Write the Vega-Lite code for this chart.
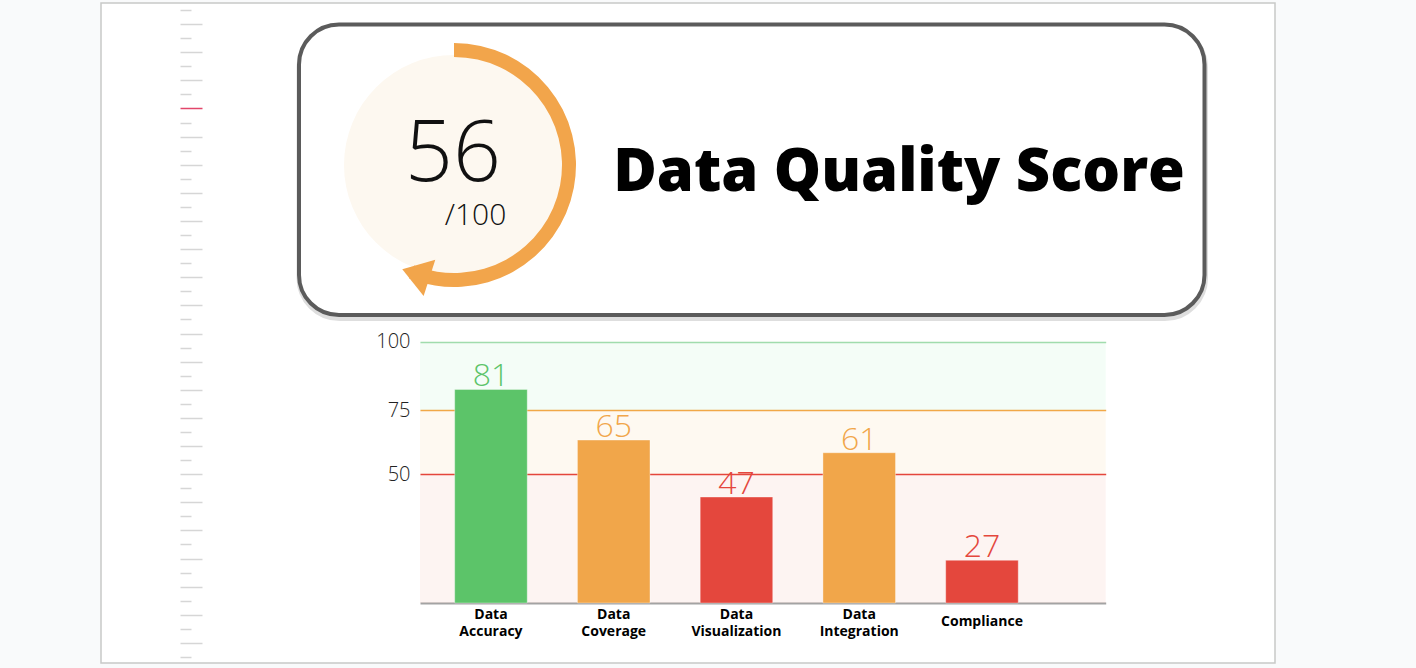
{
  "$schema": "https://vega.github.io/schema/vega-lite/v6.json",
  "width": 1174,
  "height": 660,
  "autosize": {"type": "none"},
  "padding": {"left": 101, "top": 3, "right": 141, "bottom": 5},
  "background": "#f9fafb",
  "config": {
    "view": {"fill": "white", "stroke": "#c8c9c8", "strokeWidth": 1.5},
    "font": "Open Sans"
  },
  "datasets": {
    "scores": [
      {"category": "Data Accuracy", "score": 81},
      {"category": "Data Coverage", "score": 65},
      {"category": "Data Visualization", "score": 47},
      {"category": "Data Integration", "score": 61},
      {"category": "Compliance", "score": 27}
    ],
    "overall": [{"metric": "Data Quality Score", "score": 56, "max": 100}],
    "zones": [
      {"zone": "Good", "from": 75, "to": 100},
      {"zone": "Fair", "from": 50, "to": 75},
      {"zone": "Poor", "from": 0, "to": 50}
    ]
  },
  "layer": [
    {
      "data": {"values": [{}]},
      "mark": {"type": "point", "opacity": 0, "size": 0},
      "encoding": {
        "y": {
          "datum": 0, "type": "quantitative",
          "scale": {"domain": [0, 46], "range": [7, 654], "nice": false, "zero": false},
          "axis": {"orient": "right", "offset": -1095, "values": [0,2,4,6,8,10,12,14,16,18,20,22,24,26,28,30,32,34,36,38,40,42,44,46],
            "tickSize": 11, "tickColor": "#d6d6d6", "tickWidth": 1.5, "labels": false, "domain": false, "grid": false, "title": null}
        }
      }
    },
    {
      "data": {"values": [{}]},
      "mark": {"type": "point", "opacity": 0, "size": 0},
      "encoding": {
        "y": {
          "datum": 0, "type": "quantitative",
          "scale": {"domain": [0, 46], "range": [7, 654], "nice": false, "zero": false},
          "axis": {"orient": "right", "offset": -1095, "values": [1,3,5,7,9,11,13,15,17,19,21,23,25,27,29,31,33,35,37,39,41,43,45],
            "tickSize": 22, "tickColor": {"condition": {"test": "datum.value === 7", "value": "#e2466a"}, "value": "#d6d6d6"},
            "tickWidth": 1.5, "labels": false, "domain": false, "grid": false, "title": null}
        }
      }
    },
    {
      "data": {"name": "overall"},
      "mark": {"type": "rect", "fill": null, "stroke": "#000000", "strokeOpacity": 0.13, "strokeWidth": 6, "cornerRadius": 40},
      "encoding": {
        "x": {"field": "metric", "type": "nominal", "scale": {"type": "band", "range": [198.5, 1104], "paddingInner": 0, "paddingOuter": 0}, "axis": null},
        "y": {"field": "metric", "type": "nominal", "scale": {"type": "band", "range": [24.5, 315], "paddingInner": 0, "paddingOuter": 0}, "axis": null}
      }
    },
    {
      "data": {"name": "overall"},
      "mark": {"type": "rect", "fill": "white", "stroke": "#5b5b5b", "strokeWidth": 4, "cornerRadius": 40},
      "encoding": {
        "x": {"field": "metric", "type": "nominal", "scale": {"type": "band", "range": [198, 1103.5], "paddingInner": 0, "paddingOuter": 0}, "axis": null},
        "y": {"field": "metric", "type": "nominal", "scale": {"type": "band", "range": [21.5, 312], "paddingInner": 0, "paddingOuter": 0}, "axis": null}
      }
    },
    {
      "data": {"name": "overall"},
      "encoding": {
        "x": {"field": "metric", "type": "nominal", "scale": {"type": "band", "range": [243, 463], "paddingInner": 0, "paddingOuter": 0}, "axis": null},
        "y": {"field": "metric", "type": "nominal", "scale": {"type": "band", "range": [52, 272], "paddingInner": 0, "paddingOuter": 0}, "axis": null}
      },
      "layer": [
        {"mark": {"type": "point", "shape": "circle", "filled": true, "size": 48400, "color": "#fdf8f0", "opacity": 1, "strokeWidth": 0}},
        {
          "mark": {"type": "arc", "innerRadius": 108, "outerRadius": 122, "color": "#f2a54b"},
          "encoding": {"theta": {"field": "score", "type": "quantitative", "scale": {"domain": [0, 100], "range": [0, 6.283185]}}}
        },
        {
          "mark": {"type": "point", "shape": "M0.0746,-0.8923L-0.1346,-0.7308L-0.1538,-1.0231Z", "filled": true, "size": 67600, "color": "#f2a54b", "opacity": 1, "strokeWidth": 0},
          "encoding": {"angle": {"field": "score", "type": "quantitative", "scale": {"domain": [0, 100], "range": [0, 360]}}}
        },
        {
          "mark": {"type": "text", "font": "Open Sans", "fontWeight": 300, "fontSize": 84, "baseline": "alphabetic", "align": "center", "dx": -1, "dy": 16, "color": "#111111"},
          "encoding": {"text": {"field": "score"}}
        },
        {
          "mark": {"type": "text", "font": "Open Sans", "fontWeight": 300, "fontSize": 30, "baseline": "alphabetic", "align": "center", "dx": 21.5, "dy": 60, "color": "#111111"},
          "encoding": {"text": {"value": "/100"}}
        }
      ]
    },
    {
      "data": {"name": "overall"},
      "mark": {"type": "text", "font": "Open Sans", "fontWeight": 800, "fontSize": 59.5, "baseline": "alphabetic", "align": "center", "color": "#000000"},
      "encoding": {
        "text": {"field": "metric"},
        "x": {"field": "metric", "type": "nominal", "scale": {"type": "band", "range": [514, 1082], "paddingInner": 0, "paddingOuter": 0}, "axis": null},
        "y": {"field": "metric", "type": "nominal", "scale": {"type": "band", "range": [178, 198], "paddingInner": 0, "paddingOuter": 0}, "axis": null}
      }
    },
    {
      "data": {"name": "zones"},
      "mark": {"type": "rect", "opacity": 0.06},
      "encoding": {
        "x": {"datum": "plot", "type": "nominal", "scale": {"type": "band", "range": [319, 1004.7], "paddingInner": 0, "paddingOuter": 0}, "axis": null},
        "y": {
          "field": "from", "type": "quantitative",
          "scale": {"domain": [0, 50, 75, 100], "range": [600, 471.3, 407.3, 338.7], "zero": false, "nice": false},
          "axis": {"orient": "left", "offset": -319, "values": [50, 75, 100], "title": null, "domain": false, "ticks": false, "tickSize": 0,
            "labelPadding": 10, "labelFont": "Open Sans", "labelFontWeight": 300, "labelFontSize": 20, "labelColor": "#222222",
            "grid": true, "gridWidth": 1.5, "gridOpacity": 1,
            "gridColor": {"condition": [{"test": "datum.value === 100", "value": "#a6dcb1"}, {"test": "datum.value === 75", "value": "#f4a94c"}], "value": "#e5463f"}}
        },
        "y2": {"field": "to"},
        "color": {"field": "zone", "type": "nominal", "scale": {"domain": ["Good", "Fair", "Poor"], "range": ["#48de7a", "#ee9b16", "#de4826"]}, "legend": null}
      }
    },
    {
      "data": {"name": "scores"},
      "encoding": {
        "x": {
          "field": "category", "type": "nominal", "sort": null,
          "scale": {"type": "band", "range": [319, 1004.7], "paddingInner": 0.409, "paddingOuter": 0.4975, "align": 0.284},
          "axis": {"orient": "bottom", "offset": -60, "title": null, "domain": true, "domainColor": "#a3a3a3", "domainWidth": 2,
            "ticks": false, "tickSize": 0, "labelAngle": 0, "labelFont": "Open Sans", "labelFontWeight": 700, "labelFontSize": 14,
            "labelColor": "#000000", "labelBaseline": "middle", "labelLineHeight": 17,
            "labelPadding": {"condition": {"test": "indexof(datum.label, ' ') < 0", "value": 18}, "value": 11},
            "labelExpr": "split(datum.label, ' ')"}
        },
        "y": {"field": "score", "type": "quantitative", "scale": {"domain": [13.5, 96.1], "range": [600, 338.7], "zero": false, "nice": false}, "axis": null},
        "color": {"field": "score", "type": "quantitative", "scale": {"type": "threshold", "domain": [50, 75], "range": ["#e4473d", "#f1a64a", "#5cc469"]}, "legend": null}
      },
      "layer": [
        {"mark": {"type": "bar", "stroke": "white", "strokeOpacity": 0.35, "strokeWidth": 1}, "encoding": {"y2": {"datum": 13.5}}},
        {"mark": {"type": "text", "font": "Open Sans", "fontWeight": 300, "fontSize": 32, "baseline": "alphabetic", "align": "center", "dy": -3}, "encoding": {"text": {"field": "score"}}}
      ]
    }
  ],
  "resolve": {
    "scale": {"x": "independent", "y": "independent", "color": "independent", "theta": "independent", "angle": "independent"},
    "axis": {"x": "independent", "y": "independent"}
  }
}
